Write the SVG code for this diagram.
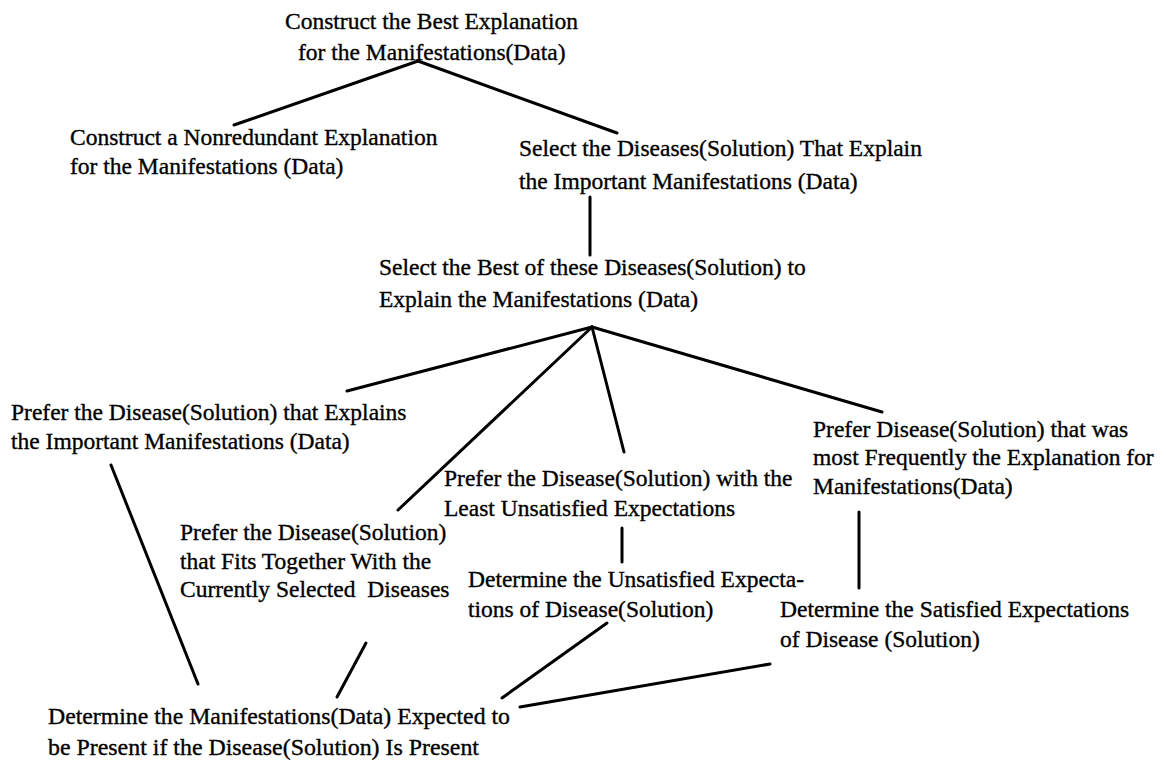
<svg xmlns="http://www.w3.org/2000/svg" width="1166" height="760" viewBox="0 0 1166 760">
<style>
.t{font-family:"Liberation Serif","Times New Roman",serif;font-size:23.5px;fill:#000;stroke:#000;stroke-width:0.35}
.c line{stroke:#000;stroke-width:3;stroke-linecap:round}
</style>
<rect width="1166" height="760" fill="#fff"/>
<g id="connectors" class="c">
<line x1="418" y1="61" x2="234" y2="125"/>
<line x1="418" y1="61" x2="617" y2="133"/>
<line x1="590" y1="197" x2="590" y2="255"/>
<line x1="592" y1="327" x2="347" y2="391"/>
<line x1="592" y1="327" x2="398" y2="510"/>
<line x1="592" y1="327" x2="624" y2="452"/>
<line x1="592" y1="327" x2="882" y2="412"/>
<line x1="622" y1="528" x2="622" y2="562"/>
<line x1="859" y1="512" x2="859" y2="588"/>
<line x1="111" y1="465" x2="198" y2="684"/>
<line x1="366" y1="643" x2="337" y2="697"/>
<line x1="607" y1="623" x2="502" y2="698"/>
<line x1="770" y1="664" x2="520" y2="707"/>
</g>
<g id="nA" class="t"><text x="285" y="29">Construct the Best Explanation</text><text x="298" y="60">for the Manifestations(Data)</text></g>
<g id="nB" class="t"><text x="70" y="145">Construct a Nonredundant Explanation</text><text x="70" y="174">for the Manifestations (Data)</text></g>
<g id="nC" class="t"><text x="519" y="156">Select the Diseases(Solution) That Explain</text><text x="519" y="189">the Important Manifestations (Data)</text></g>
<g id="nD" class="t"><text x="379" y="275">Select the Best of these Diseases(Solution) to</text><text x="379" y="307">Explain the Manifestations (Data)</text></g>
<g id="nE" class="t"><text x="11" y="420">Prefer the Disease(Solution) that Explains</text><text x="11" y="449">the Important Manifestations (Data)</text></g>
<g id="nF" class="t"><text x="180" y="540">Prefer the Disease(Solution)</text><text x="180" y="569">that Fits Together With the</text><text x="180" y="597" xml:space="preserve">Currently Selected  Diseases</text></g>
<g id="nG" class="t"><text x="444" y="486">Prefer the Disease(Solution) with the</text><text x="444" y="516">Least Unsatisfied Expectations</text></g>
<g id="nH" class="t"><text x="813" y="437">Prefer Disease(Solution) that was</text><text x="813" y="465">most Frequently the Explanation for</text><text x="813" y="494">Manifestations(Data)</text></g>
<g id="nI" class="t"><text x="468" y="587">Determine the Unsatisfied Expecta-</text><text x="468" y="617">tions of Disease(Solution)</text></g>
<g id="nJ" class="t"><text x="780" y="617">Determine the Satisfied Expectations</text><text x="780" y="647">of Disease (Solution)</text></g>
<g id="nK" class="t"><text x="48" y="724" textLength="462" lengthAdjust="spacingAndGlyphs">Determine the Manifestations(Data) Expected to</text><text x="48" y="755" textLength="431" lengthAdjust="spacingAndGlyphs">be Present if the Disease(Solution) Is Present</text></g>
</svg>
